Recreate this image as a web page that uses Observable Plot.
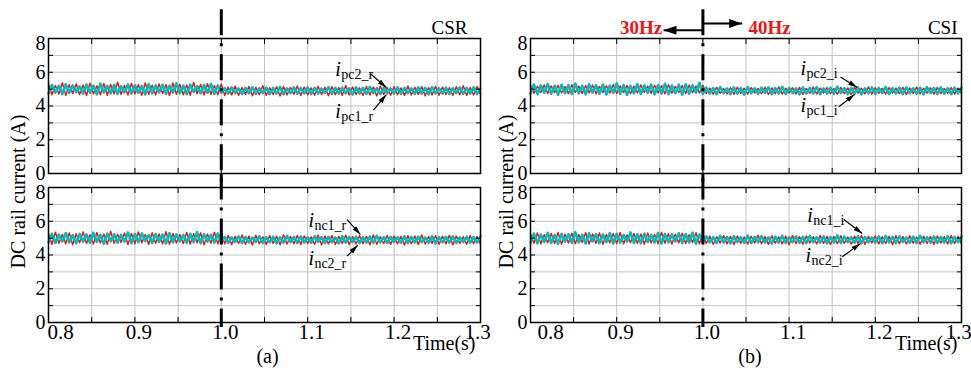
<!DOCTYPE html>
<html><head><meta charset="utf-8">
<script src="https://cdn.jsdelivr.net/npm/d3@7"></script>
<script src="https://cdn.jsdelivr.net/npm/@observablehq/plot@0.6"></script>
<style>
body{margin:0;background:#fff}
#wrap{display:flex;width:971px;height:370px;overflow:hidden}
#wrap svg{flex:none;display:block;max-width:none}
#wrap svg text{font-family:'Liberation Serif','Times New Roman',Times,serif}
</style>
</head><body><div id="wrap"></div>
<script>
// sampling grid of the recorded waveforms (s)
const tStart = 0.8, tStep = 0.004;
const stepTime = 1.0;

// (a) CSR – upper panel
const pc1_r = [5.32,4.66,5.21,4.71,5.38,4.63,5.26,4.74,5.30,4.68,5.24,4.62,5.35,
4.72,5.19,4.67,5.33,4.64,5.27,4.73,5.41,4.69,5.22,4.65,5.34,4.71,
5.28,4.63,5.37,4.70,5.23,4.66,5.31,4.74,5.26,4.62,5.36,4.69,5.29,
4.67,5.25,4.64,5.39,4.72,5.27,4.65,5.32,4.70,5.21,4.67,5.30,
4.62,5.12,4.66,5.18,4.64,5.09,4.69,5.15,4.61,5.11,4.67,5.20,4.63,
5.08,4.68,5.14,4.60,5.16,4.65,5.10,4.70,5.19,4.62,5.13,4.66,5.07,
4.64,5.17,4.68,5.11,4.61,5.15,4.67,5.09,4.63,5.21,4.65,5.12,4.69,
5.08,4.62,5.16,4.66,5.13,4.60,5.18,4.68,5.10,4.64,5.14,4.67,5.07,
4.63,5.19,4.65,5.11,4.69,5.15,4.61,5.09,4.66,5.17,4.64,5.12,4.68,
5.08,4.62,5.14,4.67,5.20,4.63,5.10,4.65,5.16,4.69];
const pc2_r = [4.74,5.24,4.79,5.19,4.70,5.29,4.77,5.22,4.82,5.17,4.73,5.27,4.78,
5.21,4.69,5.33,4.80,5.20,4.75,5.25,4.71,5.18,4.81,5.28,4.74,5.23,
4.78,5.19,4.68,5.30,4.76,5.22,4.80,5.26,4.72,5.20,4.79,5.35,4.75,
5.21,4.70,5.27,4.83,5.18,4.74,5.24,4.77,5.31,4.71,5.22,4.78,
5.06,4.73,5.10,4.76,5.04,4.70,5.08,4.75,5.12,4.72,5.05,4.77,5.09,
4.71,5.07,4.74,5.13,4.69,5.05,4.76,5.10,4.72,5.06,4.75,5.11,4.70,
5.08,4.74,5.04,4.77,5.12,4.71,5.07,4.73,5.09,4.75,5.05,4.68,5.10,
4.74,5.08,4.72,5.13,4.76,5.06,4.70,5.09,4.75,5.04,4.73,5.11,4.71,
5.07,4.76,5.05,4.72,5.10,4.74,5.08,4.69,5.12,4.75,5.06,4.73,5.09,
4.71,5.05,4.76,5.11,4.72,5.07,4.74,5.10,4.70,5.06];
// (a) CSR – lower panel
const nc1_r = [5.28,4.64,5.35,4.70,5.22,4.66,5.31,4.61,5.26,4.73,5.37,4.68,5.20,
4.65,5.33,4.71,5.25,4.63,5.40,4.69,5.23,4.74,5.30,4.62,5.27,4.67,
5.36,4.72,5.21,4.64,5.32,4.70,5.24,4.66,5.38,4.63,5.28,4.71,5.22,
4.68,5.34,4.65,5.26,4.73,5.31,4.61,5.24,4.69,5.35,4.66,5.29,
4.66,5.15,4.62,5.10,4.68,5.19,4.64,5.12,4.60,5.17,4.67,5.08,4.63,
5.14,4.69,5.11,4.61,5.20,4.65,5.09,4.67,5.16,4.62,5.13,4.68,5.07,
4.64,5.18,4.60,5.12,4.66,5.15,4.63,5.10,4.69,5.17,4.62,5.09,4.65,
5.14,4.67,5.11,4.61,5.19,4.64,5.08,4.68,5.16,4.63,5.12,4.66,5.10,
4.60,5.15,4.67,5.13,4.62,5.18,4.65,5.09,4.69,5.14,4.63,5.11,4.66,
5.17,4.61,5.12,4.68,5.08,4.64,5.15,4.67,5.10,4.62];
const nc2_r = [4.76,5.26,4.71,5.21,4.80,5.30,4.74,5.18,4.69,5.25,4.78,5.22,4.72,
5.32,4.77,5.19,4.66,5.27,4.81,5.23,4.73,5.20,4.79,5.34,4.70,5.24,
4.75,5.28,4.82,5.18,4.71,5.25,4.77,5.21,4.68,5.30,4.74,5.22,4.80,
5.19,4.72,5.26,4.76,5.36,4.69,5.23,4.79,5.20,4.73,5.27,4.75,
5.08,4.72,5.05,4.76,5.11,4.70,5.07,4.74,5.04,4.77,5.12,4.71,5.06,
4.75,5.09,4.69,5.05,4.73,5.13,4.76,5.07,4.70,5.10,4.74,5.05,4.72,
5.11,4.77,5.06,4.71,5.08,4.75,5.04,4.69,5.12,4.73,5.07,4.76,5.09,
4.70,5.05,4.74,5.10,4.72,5.14,4.75,5.06,4.71,5.08,4.77,5.05,4.73,
5.11,4.70,5.07,4.74,5.09,4.76,5.04,4.72,5.12,4.69,5.06,4.75,5.08,
4.73,5.10,4.71,5.05,4.76,5.09,4.72,5.07,4.74,5.11];
// (b) CSI – upper panel
const pc1_i = [5.22,4.76,5.17,4.80,5.25,4.74,5.19,4.79,5.23,4.77,5.15,4.73,5.26,
4.81,5.18,4.75,5.21,4.78,5.24,4.72,5.16,4.80,5.20,4.76,5.27,4.74,
5.19,4.79,5.22,4.73,5.17,4.77,5.25,4.81,5.18,4.75,5.23,4.78,5.20,
4.72,5.26,4.76,5.16,4.80,5.21,4.74,5.24,4.79,5.18,4.77,5.22,
4.74,5.06,4.70,5.10,4.76,5.03,4.72,5.08,4.69,5.12,4.75,5.05,4.71,
5.09,4.77,5.04,4.73,5.11,4.68,5.07,4.74,5.13,4.70,5.05,4.76,5.08,
4.72,5.10,4.69,5.04,4.75,5.12,4.71,5.06,4.77,5.09,4.73,5.03,4.70,
5.11,4.74,5.07,4.68,5.10,4.76,5.05,4.72,5.13,4.70,5.08,4.75,5.04,
4.71,5.09,4.77,5.06,4.73,5.11,4.69,5.07,4.74,5.12,4.72,5.05,4.76,
5.08,4.70,5.10,4.73,5.04,4.75,5.09,4.71,5.06,4.74];
const pc2_i = [4.74,5.28,4.70,5.22,4.78,5.31,4.72,5.20,4.67,5.26,4.76,5.24,4.71,
5.33,4.75,5.19,4.69,5.29,4.79,5.23,4.73,5.27,4.68,5.21,4.77,5.35,
4.72,5.25,4.66,5.20,4.75,5.30,4.71,5.22,4.78,5.27,4.69,5.24,4.74,
5.32,4.70,5.21,4.76,5.26,4.67,5.29,4.73,5.23,4.79,5.38,4.72,
5.09,4.74,5.06,4.71,5.12,4.76,5.04,4.70,5.10,4.73,5.07,4.68,5.13,
4.75,5.05,4.72,5.09,4.77,5.11,4.70,5.06,4.74,5.14,4.71,5.08,4.76,
5.05,4.69,5.10,4.73,5.07,4.75,5.12,4.70,5.04,4.74,5.09,4.72,5.15,
4.76,5.06,4.71,5.08,4.73,5.11,4.69,5.05,4.75,5.10,4.72,5.07,4.77,
5.13,4.70,5.06,4.74,5.09,4.71,5.11,4.75,5.05,4.73,5.08,4.69,5.12,
4.76,5.07,4.72,5.10,4.74,5.06,4.70,5.09,4.75,5.08];
// (b) CSI – lower panel
const nc1_i = [5.26,4.70,5.31,4.66,5.20,4.73,5.28,4.68,5.34,4.64,5.23,4.71,5.29,
4.67,5.21,4.74,5.32,4.65,5.25,4.70,5.30,4.63,5.22,4.72,5.27,4.68,
5.33,4.66,5.19,4.73,5.28,4.69,5.24,4.64,5.31,4.71,5.21,4.67,5.35,
4.70,5.26,4.65,5.23,4.72,5.29,4.68,5.20,4.74,5.32,4.66,5.25,
4.68,5.12,4.64,5.08,4.71,5.15,4.66,5.10,4.62,5.13,4.69,5.06,4.65,
5.11,4.72,5.17,4.67,5.09,4.63,5.14,4.70,5.07,4.66,5.12,4.61,5.16,
4.68,5.10,4.64,5.13,4.71,5.08,4.65,5.15,4.69,5.11,4.62,5.09,4.67,
5.14,4.70,5.07,4.64,5.12,4.68,5.16,4.63,5.10,4.71,5.13,4.66,5.08,
4.69,5.11,4.62,5.15,4.67,5.09,4.65,5.14,4.70,5.06,4.64,5.12,4.68,
5.10,4.63,5.13,4.71,5.08,4.66,5.15,4.69,5.11,4.65];
const nc2_i = [4.73,5.27,4.69,5.22,4.77,5.32,4.71,5.19,4.66,5.25,4.78,5.23,4.72,
5.36,4.75,5.20,4.68,5.28,4.80,5.24,4.70,5.21,4.76,5.30,4.67,5.26,
4.74,5.19,4.79,5.34,4.71,5.23,4.69,5.27,4.77,5.20,4.73,5.31,4.68,
5.25,4.75,5.22,4.80,5.29,4.70,5.24,4.74,5.33,4.67,5.21,4.76,
5.10,4.75,5.06,4.71,5.13,4.74,5.08,4.69,5.11,4.76,5.05,4.72,5.15,
4.70,5.07,4.75,5.12,4.73,5.04,4.68,5.09,4.74,5.14,4.71,5.06,4.76,
5.10,4.72,5.08,4.70,5.13,4.75,5.05,4.73,5.11,4.69,5.07,4.74,5.16,
4.71,5.09,4.76,5.06,4.72,5.12,4.70,5.08,4.75,5.04,4.73,5.10,4.69,
5.13,4.74,5.07,4.71,5.11,4.76,5.05,4.72,5.09,4.70,5.14,4.75,5.06,
4.73,5.10,4.71,5.08,4.74,5.12,4.69,5.07,4.75,5.09];

// axes
const xGrid = [0.8,0.85,0.9,0.95,1.0,1.05,1.1,1.15,1.2,1.25,1.3];
const xLabels = [0.8,0.9,1.0,1.1,1.2,1.3];
const yGrid = [0,1,2,3,4,5,6,7,8];
const yLabels = [0,2,4,6,8];
const rowNames = ["top","bottom"];

// annotation labels (position of label, arrow start, arrow tip – data units)
const notesA = [
  {row:"top", x:1.132, y:5.77, name:"pc2_r", x1:1.1726, y1:5.91, x2:1.191, y2:5.10},
  {row:"top", x:1.132, y:3.28, name:"pc1_r", x1:1.176, y1:3.75, x2:1.191, y2:4.68},
  {row:"bottom", x:1.1008, y:5.66, name:"nc1_r", x1:1.1456, y1:6.10, x2:1.161, y2:5.21},
  {row:"bottom", x:1.1008, y:3.40, name:"nc2_r", x1:1.1456, y1:3.93, x2:1.1579, y2:4.58}
];
const notesB = [
  {row:"top", x:1.1132, y:5.83, name:"pc2_i", x1:1.1596, y1:5.72, x2:1.179, y2:5.10},
  {row:"top", x:1.1132, y:3.65, name:"pc1_i", x1:1.1577, y1:3.95, x2:1.1759, y2:4.68},
  {row:"bottom", x:1.121, y:5.96, name:"nc1_i", x1:1.1635, y1:6.10, x2:1.1848, y2:5.27},
  {row:"bottom", x:1.119, y:3.60, name:"nc2_i", x1:1.1616, y1:3.89, x2:1.1828, y2:4.68}
];
const hzArrows = [
  {row:"top", x1:1.0, y1:8.49, x2:0.9543, y2:8.49},
  {row:"top", x1:1.0, y1:8.89, x2:1.0456, y2:8.89}
];
const hzBefore = [{row:"top", x:0.9528, y:8.24, s:"30Hz"}];
const hzAfter = [{row:"top", x:1.0529, y:8.24, s:"40Hz"}];

const RED = "#ff1010", CYAN = "#00bcbc";
const FONT = "'Liberation Serif','Times New Roman',Times,serif";

function toRows(values, row) {
  return values.map((v, i) => ({t: tStart + i * tStep, v, row}));
}

function headMarker(len, wid) {
  return (color) => {
    const m = d3.create("svg:marker")
      .attr("viewBox", "0 -5 10 10")
      .attr("refX", 10).attr("refY", 0)
      .attr("markerUnits", "userSpaceOnUse")
      .attr("markerWidth", len).attr("markerHeight", wid)
      .attr("preserveAspectRatio", "none")
      .attr("orient", "auto")
      .attr("fill", color).attr("stroke", "none");
    m.append("path").attr("d", "M0,-5L10,0L0,5Z");
    return m.node();
  };
}

function column(cfg, useCustom) {
  const mk = (l, w) => useCustom ? headMarker(l, w) : "arrow";
  const red = [...toRows(cfg.topRed, "top"), ...toRows(cfg.botRed, "bottom")];
  const cyan = [...toRows(cfg.topCyan, "top"), ...toRows(cfg.botCyan, "bottom")];
  const lab = {tickSize: 0, tickPadding: 3, fontSize: 20, fontFamily: FONT, label: null};
  const labX = {...lab, fontSize: 21, tickPadding: 2};
  const fmt = d3.format(".1f");
  const marks = [
    Plot.gridX(xGrid, {stroke: "#c2c2c2", strokeOpacity: 1, strokeWidth: 1}),
    Plot.gridY(yGrid, {stroke: "#c2c2c2", strokeOpacity: 1, strokeWidth: 1}),
    Plot.line(red, {x: "t", y: "v", fy: "row", stroke: RED, strokeWidth: 1.5}),
    Plot.line(cyan, {x: "t", y: "v", fy: "row", stroke: CYAN, strokeWidth: 2.6}),
    Plot.axisX(xGrid, {anchor: "top", tickSize: 5, dy: 5, tickFormat: () => "", facetAnchor: null, label: null}),
    Plot.axisX(xGrid, {anchor: "bottom", tickSize: 5, dy: -5, tickFormat: () => "", facetAnchor: null, label: null}),
    Plot.axisY(yGrid, {anchor: "left", tickSize: 5, dx: 5, tickFormat: () => "", facetAnchor: null, label: null}),
    Plot.axisY(yGrid, {anchor: "right", tickSize: 5, dx: -5, tickFormat: () => "", facetAnchor: null, label: null}),
    Plot.frame({stroke: "black", strokeWidth: 1.5}),
    Plot.axisY(yLabels.slice(0, -1), {anchor: "left", ...lab}),
    Plot.axisY(yLabels.slice(-1), {anchor: "left", ...lab, dy: 5}),
    Plot.axisX(xLabels.slice(1, -1), {anchor: "bottom", ...labX, dx: 4, tickFormat: fmt}),
    Plot.axisX(xLabels.slice(-1), {anchor: "bottom", ...labX, dx: -3, tickFormat: fmt}),
    Plot.axisX(xLabels.slice(0, 1), {anchor: "bottom", ...labX, dx: cfg.firstDx, textAnchor: "start", tickFormat: fmt}),
    Plot.ruleX([{t: stepTime, row: "top"}], {x: "t", fy: "row", y1: 9.7, y2: -0.8, stroke: "black", strokeWidth: 3, strokeDasharray: "26,8,3,8"}),
    Plot.ruleX([{t: stepTime, row: "bottom"}], {x: "t", fy: "row", y1: 8.8, y2: -0.3, stroke: "black", strokeWidth: 3, strokeDasharray: "26,8,3,8"}),
    Plot.text(cfg.notes, {x: "x", y: "y", fy: "row", text: () => "i", fontStyle: "italic", fontSize: 20, fontFamily: FONT, textAnchor: "start", lineAnchor: "bottom"}),
    Plot.text(cfg.notes, {x: "x", y: "y", fy: "row", text: "name", fontSize: 14, fontFamily: FONT, textAnchor: "start", lineAnchor: "bottom", dx: 6, dy: 3}),
    Plot.link(cfg.notes, {x1: "x1", y1: "y1", x2: "x2", y2: "y2", fy: "row", stroke: "black", strokeWidth: 1.2, markerEnd: mk(9, 5)}),
    Plot.text([{row: "top", s: cfg.title}], {fy: "row", text: "s", frameAnchor: "top-right", textAnchor: "end", lineAnchor: "bottom", dx: cfg.titleDx, dy: -5, fontSize: 19, fontFamily: FONT}),
    Plot.text([{row: "bottom", s: "Time(s)"}], {fy: "row", text: "s", frameAnchor: "bottom-right", textAnchor: "end", lineAnchor: "bottom", dx: cfg.timeDx, dy: 27, fontSize: 20, fontFamily: FONT}),
    Plot.text([{row: "bottom", s: cfg.tag}], {fy: "row", text: "s", frameAnchor: "bottom", textAnchor: "middle", lineAnchor: "bottom", dx: cfg.tagDx, dy: 40, fontSize: 20, fontFamily: FONT}),
    Plot.text([{row: "top", s: "DC rail current (A)"}], {fy: "row", text: "s", frameAnchor: "bottom-left", rotate: -90, textAnchor: "middle", lineAnchor: "middle", dx: cfg.yTitleDx, dy: 18, fontSize: 20, fontFamily: FONT})
  ];
  if (cfg.hz) {
    marks.push(
      Plot.link(hzArrows, {x1: "x1", y1: "y1", x2: "x2", y2: "y2", fy: "row", stroke: "black", strokeWidth: 2, markerEnd: mk(13, 9)}),
      Plot.text(hzBefore, {x: "x", y: "y", fy: "row", text: "s", textAnchor: "end", lineAnchor: "bottom", fill: "#f01414", fontWeight: "bold", fontSize: 19, fontFamily: FONT}),
      Plot.text(hzAfter, {x: "x", y: "y", fy: "row", text: "s", textAnchor: "start", lineAnchor: "bottom", fill: "#f01414", fontWeight: "bold", fontSize: 19, fontFamily: FONT})
    );
  }
  return Plot.plot({
    width: cfg.width,
    height: 370,
    marginLeft: cfg.marginLeft,
    marginRight: 10,
    marginTop: 38,
    marginBottom: 47,
    style: {fontFamily: FONT, fontSize: "20px", color: "black", background: "white", overflow: "visible"},
    x: {domain: [0.8, 1.3], label: null},
    y: {domain: [0, 8], label: null},
    fy: {domain: rowNames, axis: null, paddingInner: 0.092, paddingOuter: 0, label: null},
    marks
  });
}

const cfgA = {width: 490, marginLeft: 48, topRed: pc1_r, topCyan: pc2_r, botRed: nc1_r, botCyan: nc2_r,
  notes: notesA, title: "CSR", titleDx: -13, timeDx: -5, tag: "(a)", tagDx: 3, yTitleDx: -30, firstDx: -1, hz: false};
const cfgB = {width: 481, marginLeft: 40, topRed: pc1_i, topCyan: pc2_i, botRed: nc1_i, botCyan: nc2_i,
  notes: notesB, title: "CSI", titleDx: -4, timeDx: -4, tag: "(b)", tagDx: 4, yTitleDx: -24, firstDx: 7, hz: true};

const wrap = document.getElementById("wrap");
for (const cfg of [cfgA, cfgB]) {
  let chart;
  try { chart = column(cfg, true); } catch (e) { console.error(e); chart = column(cfg, false); }
  wrap.appendChild(chart);
}
</script>
</body></html>
